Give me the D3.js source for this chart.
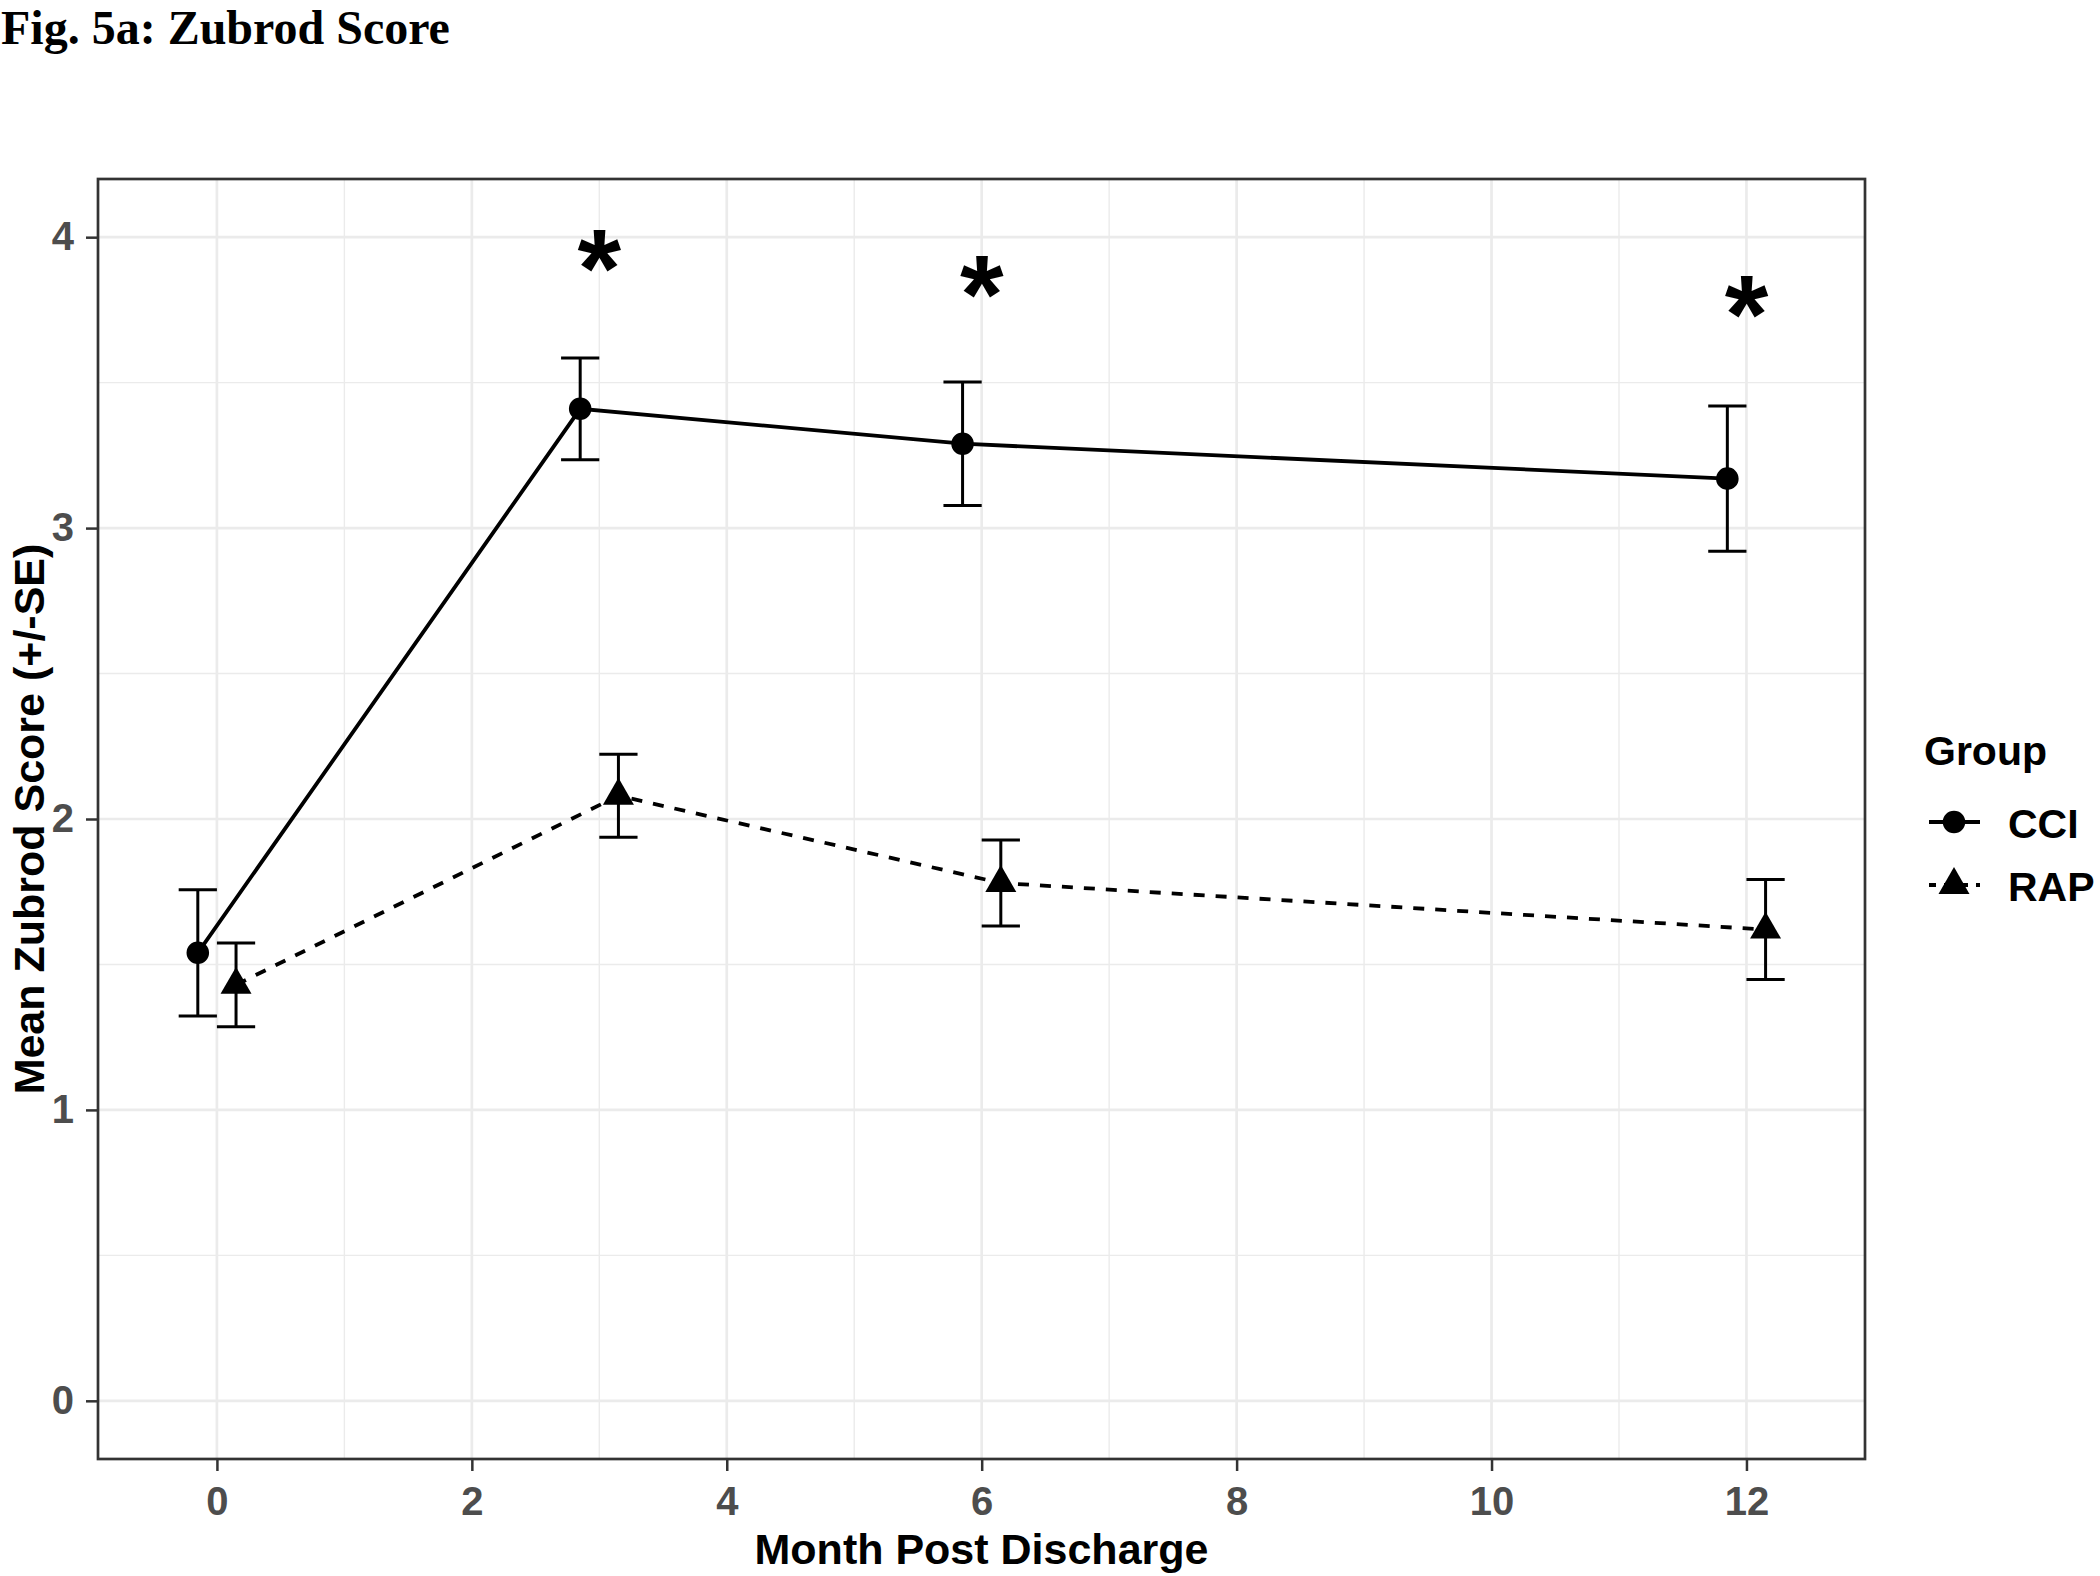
<!DOCTYPE html>
<html lang="en">
<head>
  <meta charset="UTF-8">
  <title>Fig. 5a: Zubrod Score</title>
  <script src="https://d3js.org/d3.v7.min.js"></script>
  <style>
    body {
      margin: 0;
      background: #fff;
    }

    svg {
      display: block;
    }

    .title {
      font-family: "Liberation Serif", "Times New Roman", serif;
      font-weight: bold;
      font-size: 48px;
    }

    .tick-label {
      font-family: "Liberation Sans", Arial, sans-serif;
      font-weight: bold;
      font-size: 40px;
      fill: #4d4d4d;
    }

    .axis-title,
    .legend text {
      font-family: "Liberation Sans", Arial, sans-serif;
      font-weight: bold;
      fill: #000;
    }

    .star {
      font-family: "Liberation Sans", Arial, sans-serif;
      font-weight: bold;
      font-size: 112px;
    }
  </style>
</head>
<body>
  <svg id="chart"></svg>
  <script>
    // values
    const months = [0, 3, 6, 12];
    const cciMean = [1.54, 3.41, 3.29, 3.17];
    const cciSE = [0.217, 0.175, 0.212, 0.25];
    const rapMean = [1.43, 2.08, 1.78, 1.62];
    const rapSE = [0.144, 0.143, 0.148, 0.172];
    const starMonths = [3, 6, 12];
    const starLevels = [3.96, 3.87, 3.80];
    const xTicks = [0, 2, 4, 6, 8, 10, 12];
    const yTicks = [0, 1, 2, 3, 4];
    const groups = ["CCI", "RAP"];

    const width = 2100;
    const height = 1576;
    const panel = { left: 98, right: 1865, top: 179, bottom: 1459 };
    const dodge = 0.15;
    const capWidth = 0.3;

    const svg = d3.select("#chart")
      .attr("width", width)
      .attr("height", height);

    const x = d3.scaleLinear()
      .domain([-0.933, 12.93])
      .range([panel.left, panel.right]);

    const y = d3.scaleLinear()
      .domain([-0.2, 4.2])
      .range([panel.bottom, panel.top]);

    // title
    svg.append("text")
      .attr("class", "title")
      .attr("x", 1)
      .attr("y", 44)
      .text("Fig. 5a: Zubrod Score");

    // grid
    const xMinor = d3.range(1, 12, 2);
    const yMinor = d3.range(0.5, 4, 1);

    svg.append("g")
      .selectAll("line")
      .data(xMinor)
      .join("line")
      .attr("x1", d => x(d)).attr("x2", d => x(d))
      .attr("y1", panel.top).attr("y2", panel.bottom)
      .attr("stroke", "#ebebeb").attr("stroke-width", 1.4);

    svg.append("g")
      .selectAll("line")
      .data(yMinor)
      .join("line")
      .attr("x1", panel.left).attr("x2", panel.right)
      .attr("y1", d => y(d)).attr("y2", d => y(d))
      .attr("stroke", "#ebebeb").attr("stroke-width", 1.4);

    svg.append("g")
      .selectAll("line")
      .data(xTicks)
      .join("line")
      .attr("x1", d => x(d)).attr("x2", d => x(d))
      .attr("y1", panel.top).attr("y2", panel.bottom)
      .attr("stroke", "#ebebeb").attr("stroke-width", 2.7);

    svg.append("g")
      .selectAll("line")
      .data(yTicks)
      .join("line")
      .attr("x1", panel.left).attr("x2", panel.right)
      .attr("y1", d => y(d)).attr("y2", d => y(d))
      .attr("stroke", "#ebebeb").attr("stroke-width", 2.7);

    // axes
    const xAxis = d3.axisBottom(x).tickValues(xTicks).tickFormat(d3.format("d")).tickSize(12);
    const gx = svg.append("g")
      .attr("transform", `translate(0,${panel.bottom})`)
      .call(xAxis);
    gx.select(".domain").remove();
    gx.selectAll(".tick line").attr("stroke", "#333").attr("stroke-width", 2.5);
    gx.selectAll(".tick text").attr("class", "tick-label").attr("dy", "0.71em").attr("y", 28);

    const yAxis = d3.axisLeft(y).tickValues(yTicks).tickFormat(d3.format("d")).tickSize(12);
    const gy = svg.append("g")
      .attr("transform", `translate(${panel.left},0)`)
      .call(yAxis);
    gy.select(".domain").remove();
    gy.selectAll(".tick line").attr("stroke", "#333").attr("stroke-width", 2.5);
    gy.selectAll(".tick text").attr("class", "tick-label").attr("x", -24);

    // series
    const series = [
      { name: groups[0], mean: cciMean, se: cciSE, shift: -dodge, dash: null, shape: d3.symbolCircle, size: 400 },
      { name: groups[1], mean: rapMean, se: rapSE, shift: dodge, dash: "11,11", shape: d3.symbolTriangle, size: 416 }
    ];

    const line = d3.line()
      .x(d => x(d.m))
      .y(d => y(d.v));

    series.forEach(s => {
      const pts = months.map((m, i) => ({ m: m + s.shift, v: s.mean[i], se: s.se[i] }));

      svg.append("path")
        .datum(pts)
        .attr("d", line)
        .attr("fill", "none")
        .attr("stroke", "#000")
        .attr("stroke-width", 3.8)
        .attr("stroke-dasharray", s.dash);

      const eb = svg.append("g").attr("stroke", "#000").attr("stroke-width", 3);
      eb.selectAll(".stem")
        .data(pts)
        .join("line")
        .attr("x1", d => x(d.m)).attr("x2", d => x(d.m))
        .attr("y1", d => y(d.v + d.se)).attr("y2", d => y(d.v - d.se));
      eb.selectAll(".cap-top")
        .data(pts)
        .join("line")
        .attr("x1", d => x(d.m - capWidth / 2)).attr("x2", d => x(d.m + capWidth / 2))
        .attr("y1", d => y(d.v + d.se)).attr("y2", d => y(d.v + d.se));
      eb.selectAll(".cap-bottom")
        .data(pts)
        .join("line")
        .attr("x1", d => x(d.m - capWidth / 2)).attr("x2", d => x(d.m + capWidth / 2))
        .attr("y1", d => y(d.v - d.se)).attr("y2", d => y(d.v - d.se));

      svg.append("g")
        .selectAll("path")
        .data(pts)
        .join("path")
        .attr("transform", d => `translate(${x(d.m)},${y(d.v)})`)
        .attr("d", d3.symbol().type(s.shape).size(s.size))
        .attr("fill", "#000");
    });

    // significance stars
    svg.append("g")
      .selectAll("text")
      .data(starMonths)
      .join("text")
      .attr("class", "star")
      .attr("text-anchor", "middle")
      .attr("x", d => x(d))
      .attr("y", (d, i) => y(starLevels[i]) + 58)
      .text("*");

    // panel border
    svg.append("rect")
      .attr("x", panel.left).attr("y", panel.top)
      .attr("width", panel.right - panel.left)
      .attr("height", panel.bottom - panel.top)
      .attr("fill", "none")
      .attr("stroke", "#333")
      .attr("stroke-width", 2.7);

    // axis titles
    svg.append("text")
      .attr("class", "axis-title")
      .attr("text-anchor", "middle")
      .attr("x", (panel.left + panel.right) / 2)
      .attr("y", 1564)
      .style("font-size", "43px")
      .text("Month Post Discharge");

    svg.append("text")
      .attr("class", "axis-title")
      .attr("text-anchor", "middle")
      .attr("transform", `translate(44,${(panel.top + panel.bottom) / 2}) rotate(-90)`)
      .style("font-size", "43px")
      .text("Mean Zubrod Score (+/-SE)");

    // legend
    const legend = svg.append("g").attr("class", "legend");
    legend.append("text")
      .attr("x", 1924)
      .attr("y", 765)
      .style("font-size", "41px")
      .text("Group");

    const keyY = [822, 885];
    series.forEach((s, i) => {
      const k = legend.append("g").attr("transform", `translate(1954,${keyY[i]})`);
      k.append("line")
        .attr("x1", -25).attr("x2", 26)
        .attr("stroke", "#000")
        .attr("stroke-width", 3.8)
        .attr("stroke-dasharray", s.dash ? "8,8" : null)
        .attr("stroke-dashoffset", s.dash ? 1 : null);
      k.append("path")
        .attr("d", d3.symbol().type(s.shape).size(s.size))
        .attr("fill", "#000");
      legend.append("text")
        .attr("x", 2008)
        .attr("y", keyY[i] + 16)
        .style("font-size", "41px")
        .text(s.name);
    });
  </script>
</body>
</html>
